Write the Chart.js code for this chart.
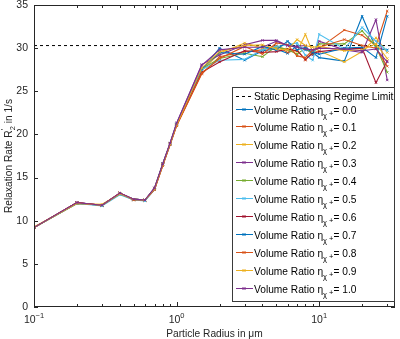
<!DOCTYPE html>
<html>
<head>
<meta charset="utf-8">
<script src="https://cdn.jsdelivr.net/npm/chart.js@4"></script>
<style>html,body{margin:0;padding:0;background:#fff}</style>
</head>
<body>
<canvas id="chart" width="400" height="339"></canvas>
<script>
'use strict';
// particle radius in um
const radius = [0.1, 0.2, 0.3, 0.4, 0.5, 0.6, 0.7, 0.8, 0.9, 1.0, 1.5, 2, 3, 4, 5, 6, 7, 8, 9, 10, 15, 20, 25, 30];
const xMin = 0.1, xMax = 34;
const yTicks = [0, 5, 10, 15, 20, 25, 30, 35];
const staticLimit = 30.3;
const etaValues = ['0.0', '0.1', '0.2', '0.3', '0.4', '0.5', '0.6', '0.7', '0.8', '0.9', '1.0'];
const colors = ['#0072BD', '#D95319', '#EDB120', '#7E2F8E', '#77AC30', '#4DBEEE', '#A2142F', '#0072BD', '#D95319', '#EDB120', '#7E2F8E'];

// relaxation rate R2' (1/s), one array per volume ratio
const r2Eta00 = [9.2, 12.1, 11.8, 13.1, 12.5, 12.4, 13.7, 16.5, 18.9, 21.2, 27.5, 30.0, 28.6, 29.7, 29.9, 29.4, 30.3, 29.8, 29.5, 28.9, 28.5, 33.7, 30.0, 29.8];
const r2Eta01 = [9.2, 12.0, 11.8, 13.2, 12.4, 12.4, 13.6, 16.4, 18.8, 21.0, 27.0, 29.0, 29.6, 29.8, 30.3, 29.5, 29.8, 28.6, 29.6, 30.0, 32.1, 31.5, 30.3, 34.3];
const r2Eta02 = [9.3, 12.0, 11.9, 13.1, 12.5, 12.3, 13.7, 16.6, 18.9, 21.2, 27.4, 29.4, 30.6, 30.0, 30.1, 29.9, 29.6, 31.6, 29.5, 29.7, 28.4, 29.6, 31.2, 29.5];
const r2Eta03 = [9.2, 12.1, 11.8, 13.2, 12.5, 12.4, 13.8, 16.6, 19.0, 21.3, 28.1, 29.2, 30.4, 30.9, 30.9, 30.3, 30.2, 30.3, 29.2, 30.8, 29.8, 29.5, 33.3, 26.3];
const r2Eta04 = [9.2, 12.0, 11.8, 13.1, 12.4, 12.4, 13.7, 16.5, 18.9, 21.1, 27.6, 28.8, 29.4, 29.0, 30.2, 29.8, 29.3, 30.0, 29.3, 30.5, 30.5, 32.0, 30.2, 27.2];
const r2Eta05 = [9.2, 12.0, 11.7, 13.0, 12.4, 12.3, 13.6, 16.5, 18.8, 21.2, 27.5, 28.6, 28.7, 29.8, 30.2, 30.4, 30.6, 29.2, 28.6, 31.6, 29.9, 32.4, 30.8, 29.7];
const r2Eta06 = [9.2, 12.1, 11.8, 13.2, 12.5, 12.4, 13.7, 16.5, 18.9, 21.1, 27.2, 28.4, 29.7, 29.5, 29.6, 29.9, 29.7, 28.7, 29.4, 29.6, 29.9, 30.0, 26.0, 28.5];
const r2Eta07 = [9.2, 12.0, 11.8, 13.1, 12.5, 12.4, 13.7, 16.6, 18.9, 21.2, 27.6, 29.5, 29.3, 30.2, 29.8, 30.8, 29.8, 30.1, 29.5, 29.3, 30.0, 30.1, 28.9, 33.7];
const r2Eta08 = [9.2, 12.1, 11.8, 13.2, 12.4, 12.4, 13.6, 16.4, 18.8, 21.0, 27.1, 28.8, 30.2, 29.3, 30.6, 30.4, 29.1, 28.9, 29.8, 30.1, 31.0, 30.3, 30.0, 27.9];
const r2Eta09 = [9.2, 12.0, 11.8, 13.1, 12.5, 12.4, 13.7, 16.5, 18.9, 21.1, 27.7, 29.6, 30.3, 30.4, 29.9, 29.8, 31.0, 30.3, 30.1, 30.2, 29.7, 29.8, 30.5, 28.8];
const r2Eta10 = [9.2, 12.1, 11.8, 13.2, 12.5, 12.4, 13.8, 16.6, 19.0, 21.3, 28.0, 29.8, 30.1, 30.1, 30.8, 30.3, 30.1, 29.9, 29.8, 30.0, 29.9, 29.7, 29.9, 28.4];
const r2Series = [r2Eta00, r2Eta01, r2Eta02, r2Eta03, r2Eta04, r2Eta05, r2Eta06, r2Eta07, r2Eta08, r2Eta09, r2Eta10];

const fontFamily = '"Liberation Sans", Arial, sans-serif';
const baseSize = 10.2;
const inkColor = '#262626';

function partsWidth(ctx, parts) {
  let w = 0;
  for (const p of parts) {
    ctx.font = (p.size || baseSize) + 'px ' + fontFamily;
    if (!p.overlay) w += ctx.measureText(p.t).width;
  }
  return w;
}

// draws text pieces left to right, with sub/superscripts shifted by dy
function drawParts(ctx, parts, x, y) {
  let cx = x;
  ctx.textAlign = 'left';
  ctx.textBaseline = 'alphabetic';
  for (const p of parts) {
    ctx.font = (p.size || baseSize) + 'px ' + fontFamily;
    ctx.fillText(p.t, cx, y + (p.dy || 0));
    if (!p.overlay) cx += ctx.measureText(p.t).width;
  }
}

const matlabAxes = {
  id: 'matlabAxes',
  afterDraw(chart) {
    const ctx = chart.ctx;
    const a = chart.chartArea;
    const xs = chart.scales.x, ys = chart.scales.y;
    ctx.save();
    ctx.strokeStyle = inkColor;
    ctx.fillStyle = inkColor;
    ctx.lineWidth = 1;

    // box
    ctx.strokeRect(a.left + 0.5, a.top + 0.5, a.right - a.left - 1, a.bottom - a.top - 1);

    // x ticks (inward, top and bottom)
    ctx.beginPath();
    for (let d = -1; d <= 1; d++) {
      for (let k = 1; k <= 9; k++) {
        const v = k * Math.pow(10, d);
        if (v < xMin || v > xMax) continue;
        const px = Math.round(xs.getPixelForValue(v)) + 0.5;
        const len = k === 1 ? 5 : 3;
        ctx.moveTo(px, a.bottom); ctx.lineTo(px, a.bottom - len);
        ctx.moveTo(px, a.top); ctx.lineTo(px, a.top + len);
      }
    }
    // y ticks
    yTicks.forEach(v => {
      const py = Math.round(ys.getPixelForValue(v)) + 0.5;
      ctx.moveTo(a.left, py); ctx.lineTo(a.left + 4, py);
      ctx.moveTo(a.right, py); ctx.lineTo(a.right - 4, py);
    });
    ctx.stroke();

    // y tick labels
    ctx.font = '10.5px ' + fontFamily;
    ctx.textAlign = 'right';
    ctx.textBaseline = 'middle';
    yTicks.forEach(v => {
      ctx.fillText(String(v), a.left - 6, ys.getPixelForValue(v));
    });

    // x tick labels 10^d
    [-1, 0, 1].forEach(d => {
      const parts = [{t: '10', size: 10.5}, {t: String(d).replace('-', '\u2212'), size: 7.5, dy: -5}];
      const w = partsWidth(ctx, parts);
      drawParts(ctx, parts, xs.getPixelForValue(Math.pow(10, d)) - w / 2, 323);
    });

    // axis titles
    const xt = [{t: 'Particle Radius in '}, {t: '\u03BC'}, {t: 'm'}];
    drawParts(ctx, xt, (a.left + a.right) / 2 - partsWidth(ctx, xt) / 2, 337);

    const yt = [{t: 'Relaxation Rate R'}, {t: '\u2032', size: 7.5, dy: -6, overlay: true}, {t: '2', size: 7.5, dy: 3}, {t: ' in 1/s'}];
    ctx.save();
    ctx.translate(12, (a.top + a.bottom) / 2);
    ctx.rotate(-Math.PI / 2);
    drawParts(ctx, yt, -partsWidth(ctx, yt) / 2, 0);
    ctx.restore();

    // legend
    const lx = 232, ly = 87, lw = 162, lh = 214;
    ctx.fillStyle = '#fff';
    ctx.fillRect(lx, ly, lw, lh);
    ctx.strokeStyle = '#3a3a3a';
    ctx.strokeRect(lx + 0.5, ly + 0.5, lw, lh);

    ctx.strokeStyle = '#000';
    ctx.setLineDash([3, 3]);
    ctx.beginPath();
    ctx.moveTo(236, 96.5); ctx.lineTo(253, 96.5);
    ctx.stroke();
    ctx.setLineDash([]);
    ctx.fillStyle = '#000';
    drawParts(ctx, [{t: 'Static Dephasing Regime Limit'}], 254, 100);

    etaValues.forEach((eta, i) => {
      const cy = Math.round(108.5 + 17.98 * i) + 0.5;
      ctx.strokeStyle = colors[i];
      ctx.beginPath();
      ctx.moveTo(236, cy); ctx.lineTo(253, cy);
      ctx.moveTo(242.5, cy - 1.5); ctx.lineTo(245.5, cy + 1.5);
      ctx.moveTo(242.5, cy + 1.5); ctx.lineTo(245.5, cy - 1.5);
      ctx.stroke();
      ctx.fillStyle = '#000';
      drawParts(ctx, [
        {t: 'Volume Ratio '}, {t: '\u03B7'},
        {t: '\u03C7', size: 7.5, dy: 4}, {t: ' +', size: 7.5, dy: 2},
        {t: '= ' + eta}
      ], 254, cy + 4);
    });
    ctx.restore();
  }
};

const datasets = [{
  label: 'Static Dephasing Regime Limit',
  data: [{x: xMin, y: staticLimit}, {x: xMax, y: staticLimit}],
  borderColor: '#000',
  borderWidth: 1,
  borderDash: [3, 3],
  pointRadius: 0,
  order: 20
}];
r2Series.forEach((vals, i) => {
  datasets.push({
    label: 'Volume Ratio ' + etaValues[i],
    data: radius.map((r, j) => ({x: r, y: vals[j]})),
    borderColor: colors[i],
    backgroundColor: colors[i],
    borderWidth: 1.1,
    pointStyle: 'crossRot',
    pointRadius: 1.6,
    pointBorderWidth: 1,
    order: 10 - i
  });
});

new Chart(document.getElementById('chart'), {
  type: 'line',
  data: {datasets: datasets},
  options: {
    responsive: false,
    devicePixelRatio: 1,
    animation: false,
    layout: {padding: {top: 4, right: 3, left: 0, bottom: 0}},
    plugins: {legend: {display: false}, tooltip: {enabled: false}},
    scales: {
      x: {
        type: 'logarithmic', min: xMin, max: xMax,
        ticks: {display: false}, grid: {display: false}, border: {display: false},
        afterFit(s) { s.height = 32; }
      },
      y: {
        type: 'linear', min: 0, max: 35,
        ticks: {display: false}, grid: {display: false}, border: {display: false},
        afterFit(s) { s.width = 34; }
      }
    }
  },
  plugins: [matlabAxes]
});
</script>
</body>
</html>
